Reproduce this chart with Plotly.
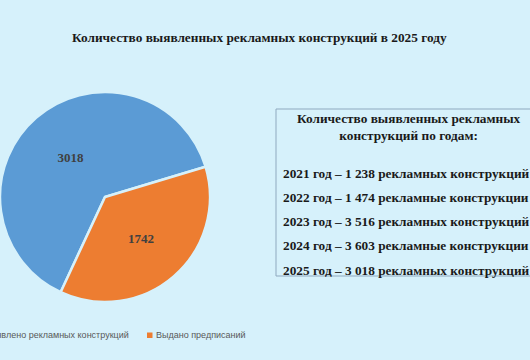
import plotly.graph_objects as go

# Data
slice_labels = ["Выявлено рекламных конструкций", "Выдано предписаний"]
slice_values = [3018, 1742]
slice_colors = ["#5b9bd5", "#ed7d31"]

years = [2021, 2022, 2023, 2024, 2025]
year_counts = [1238, 1474, 3516, 3603, 3018]
year_words = ["рекламных конструкций", "рекламные конструкции", "рекламных конструкций",
              "рекламные конструкции", "рекламных конструкций"]

title_text = "Количество выявленных рекламных конструкций в 2025 году"
box_heading = "Количество выявленных рекламных<br>конструкций по годам:"

W, H = 530, 360
BG = "#d6f1fb"
SERIF = "Liberation Serif, Times New Roman, serif"
SANS = "Liberation Sans, Arial, sans-serif"
FS = 13.3


def px(x):
    return x / W


def py(y):
    return 1 - y / H


fig = go.Figure()
fig.add_trace(go.Pie(
    labels=slice_labels,
    values=slice_values,
    marker=dict(colors=slice_colors, line=dict(color=BG, width=2.5)),
    sort=False,
    direction="clockwise",
    rotation=205,
    textinfo="value",
    textposition="inside",
    insidetextorientation="horizontal",
    textfont=dict(family=SERIF, size=13, color="#404040", weight="bold"),
    domain=dict(x=[0, px(210)], y=[py(305), py(89)]),
    showlegend=False,
    hoverinfo="label+value",
))

annotations = []
# Title
annotations.append(dict(text="<b>" + title_text + "</b>", x=px(259), y=py(38),
                        xref="paper", yref="paper", xanchor="center", yanchor="middle",
                        showarrow=False, font=dict(family=SERIF, size=FS, color="#1a1a1a")))
# Box heading
annotations.append(dict(text="<b>" + box_heading + "</b>", x=px(409), y=py(127),
                        xref="paper", yref="paper", xanchor="center", yanchor="middle",
                        showarrow=False, align="center",
                        font=dict(family=SERIF, size=FS, color="#1a1a1a")))
# Year lines
line_y0 = 173
line_step = 24.3
for i, (yr, cnt, wd) in enumerate(zip(years, year_counts, year_words)):
    cnt_s = f"{cnt:,}".replace(",", " ")
    annotations.append(dict(text=f"<b>{yr} год – {cnt_s} {wd}</b>", x=px(281),
                            y=py(line_y0 + i * line_step),
                            xref="paper", yref="paper", xanchor="left", yanchor="middle",
                            showarrow=False,
                            font=dict(family=SERIF, size=FS, color="#1a1a1a")))
# Legend (manual, first entry cropped at left edge as in the reference)
annotations.append(dict(text=slice_labels[0], x=px(131), y=py(335),
                        xref="paper", yref="paper", xanchor="right", yanchor="middle",
                        showarrow=False, font=dict(family=SANS, size=9, color="#595959")))
annotations.append(dict(text=slice_labels[1], x=px(154), y=py(335),
                        xref="paper", yref="paper", xanchor="left", yanchor="middle",
                        showarrow=False, font=dict(family=SANS, size=9, color="#595959")))

shapes = [
    dict(type="rect", xref="paper", yref="paper", x0=px(276), x1=px(545), y0=py(276), y1=py(109),
         line=dict(color="#8fa9bf", width=1), fillcolor="rgba(0,0,0,0)"),
    dict(type="rect", xref="paper", yref="paper", x0=px(147), x1=px(152.5), y0=py(338), y1=py(332.5),
         line=dict(width=0), fillcolor=slice_colors[1]),
    dict(type="rect", xref="paper", yref="paper", x0=px(-30), x1=px(-24.5), y0=py(338), y1=py(332.5),
         line=dict(width=0), fillcolor=slice_colors[0]),
]

fig.update_layout(
    width=W, height=H,
    margin=dict(l=0, r=0, t=0, b=0, autoexpand=False),
    paper_bgcolor=BG, plot_bgcolor=BG,
    annotations=annotations,
    shapes=shapes,
    showlegend=False,
)

fig.write_html("out.html",
               config={"displayModeBar": False},
               post_script="document.body.style.margin='0';document.body.style.overflow='hidden';")
